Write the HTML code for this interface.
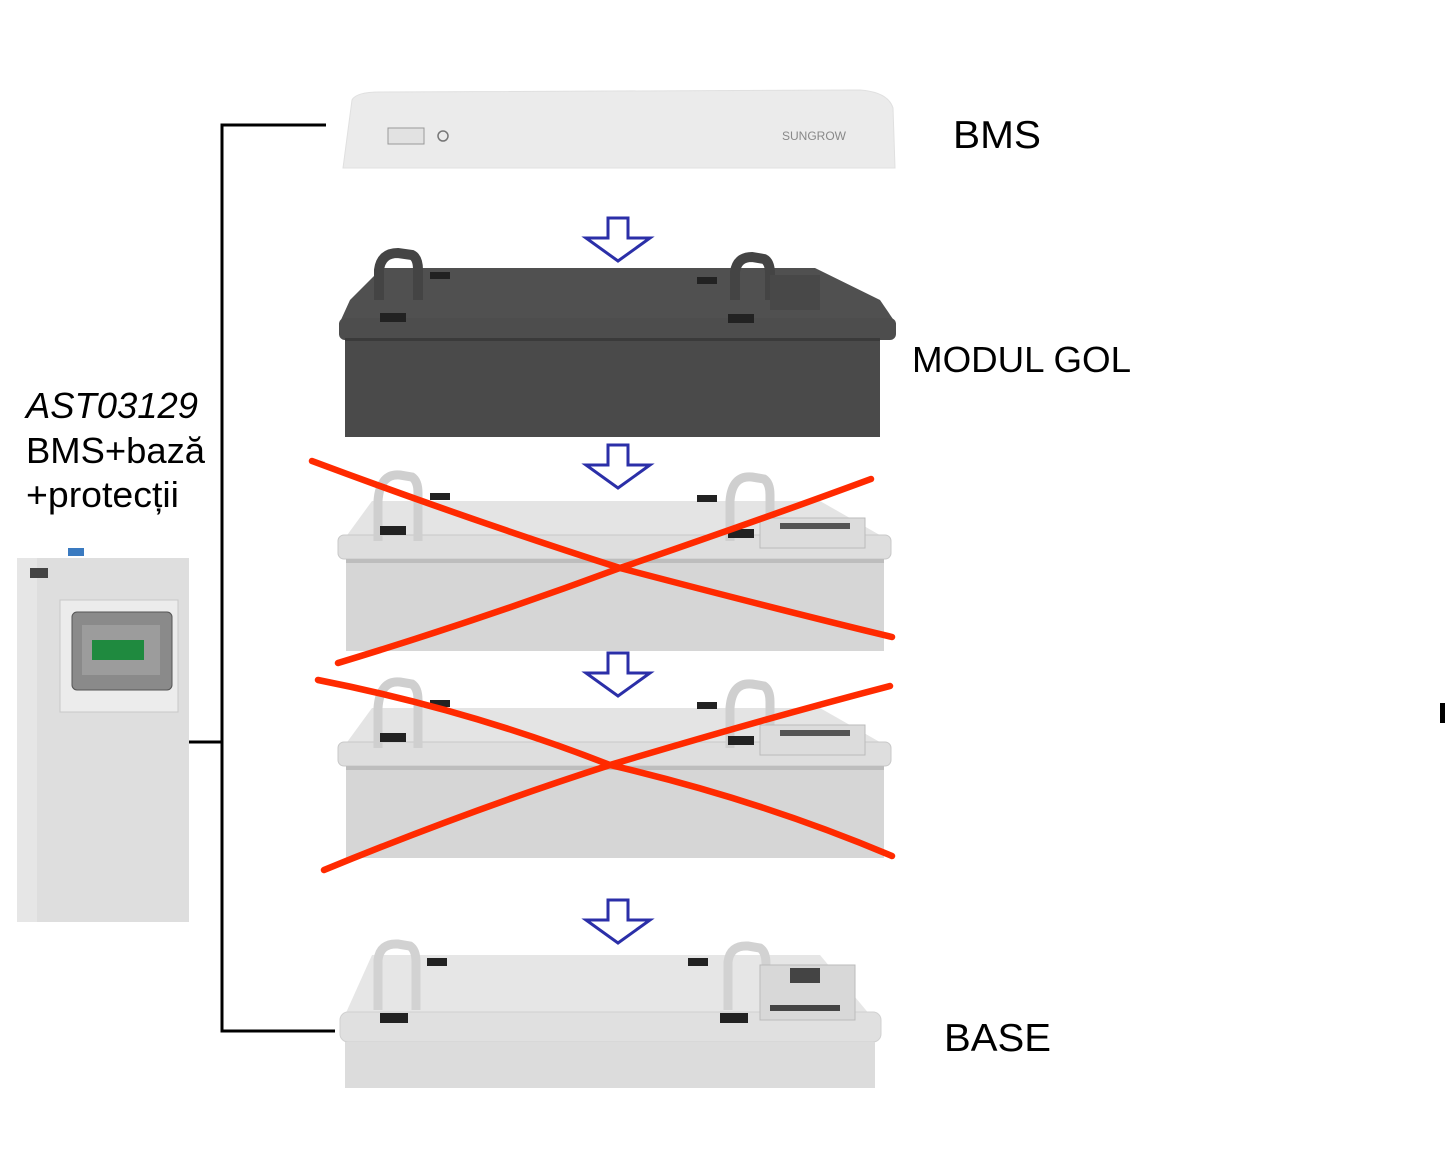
<!DOCTYPE html>
<html><head><meta charset="utf-8"><style>
html,body{margin:0;padding:0;background:#fff;}
svg{display:block;}
text{font-family:"Liberation Sans",sans-serif;fill:#000;}
</style></head><body>
<svg width="1445" height="1158" viewBox="0 0 1445 1158" xmlns="http://www.w3.org/2000/svg">
<defs>
<g id="arrow"><path d="M-10,0 H10 V20 H32 L0,43 L-32,20 H-10 Z" fill="#fff" stroke="#2b2fa8" stroke-width="3"/></g>
<g id="lightmod">
  <path d="M372,8 L820,8 L885,45 L345,45 Z" fill="#e4e4e4"/>
  <rect x="338" y="42" width="553" height="24" rx="6" fill="#dedede" stroke="#c8c8c8"/>
  <rect x="346" y="66" width="538" height="92" fill="#d6d6d6"/>
  <rect x="346" y="66" width="538" height="4" fill="#bdbdbd"/>
  <path d="M378,48 L378,8 Q380,-20 400,-18 L412,-16 Q418,-12 418,0 L418,48" fill="none" stroke="#cfcfcf" stroke-width="9"/>
  <path d="M730,48 L730,8 Q732,-18 752,-16 L764,-14 Q770,-10 770,2 L770,48" fill="none" stroke="#cfcfcf" stroke-width="9"/>
  <rect x="760" y="25" width="105" height="30" fill="#dcdcdc" stroke="#bbb"/>
  <rect x="780" y="30" width="70" height="6" fill="#555"/>
  <rect x="430" y="0" width="20" height="7" fill="#222"/>
  <rect x="697" y="2" width="20" height="7" fill="#222"/>
  <rect x="380" y="33" width="26" height="9" fill="#222"/>
  <rect x="728" y="36" width="26" height="9" fill="#222"/>
</g>
</defs>

<path d="M326,125 H222 V1031 H335 M188,742 H222" fill="none" stroke="#000" stroke-width="3"/>
<rect x="1440" y="703" width="5" height="20" fill="#000"/>

<path d="M352,100 Q356,92 380,92 L860,90 Q888,92 893,108 L895,168 L343,168 Z" fill="#ebebeb" stroke="#e0e0e0"/>
<rect x="388" y="128" width="36" height="16" fill="#e2e2e2" stroke="#999"/>
<circle cx="443" cy="136" r="5" fill="none" stroke="#777" stroke-width="1.5"/>
<text x="782" y="140" font-size="12" style="fill:#888">SUNGROW</text>

<use href="#arrow" x="618" y="218"/>
<use href="#arrow" x="618" y="445"/>
<use href="#arrow" x="618" y="653"/>
<use href="#arrow" x="618" y="900"/>

<path d="M382,268 L815,268 L880,300 L895,322 L340,322 L350,300 Z" fill="#505050"/>
<rect x="339" y="318" width="557" height="22" rx="6" fill="#4d4d4d"/>
<rect x="345" y="340" width="535" height="97" fill="#4a4a4a"/>
<rect x="345" y="338" width="535" height="3" fill="#3a3a3a"/>
<path d="M379,300 L379,270 Q381,253 398,253 L412,255 Q418,258 418,270 L418,300" fill="none" stroke="#444" stroke-width="10"/>
<path d="M735,300 L735,272 Q737,257 752,257 L764,259 Q770,262 770,274 L770,300" fill="none" stroke="#444" stroke-width="10"/>
<rect x="770" y="275" width="50" height="35" fill="#484848"/>
<rect x="430" y="272" width="20" height="7" fill="#222"/>
<rect x="697" y="277" width="20" height="7" fill="#222"/>
<rect x="380" y="313" width="26" height="9" fill="#222"/>
<rect x="728" y="314" width="26" height="9" fill="#222"/>

<use href="#lightmod" x="0" y="493"/>
<use href="#lightmod" x="0" y="700"/>

<path d="M372,955 L820,955 L870,1015 L345,1015 Z" fill="#e6e6e6"/>
<rect x="340" y="1012" width="541" height="30" rx="8" fill="#e0e0e0" stroke="#d0d0d0"/>
<rect x="345" y="1042" width="530" height="46" fill="#dcdcdc"/>
<path d="M378,1010 L378,960 Q380,943 398,944 L410,946 Q416,950 416,962 L416,1010" fill="none" stroke="#d2d2d2" stroke-width="9"/>
<path d="M728,1010 L728,962 Q730,945 748,946 L760,948 Q766,952 766,964 L766,1010" fill="none" stroke="#d2d2d2" stroke-width="9"/>
<rect x="760" y="965" width="95" height="55" fill="#d8d8d8" stroke="#bbb"/>
<rect x="790" y="968" width="30" height="15" fill="#444"/>
<rect x="770" y="1005" width="70" height="6" fill="#444"/>
<rect x="427" y="958" width="20" height="8" fill="#222"/>
<rect x="688" y="958" width="20" height="8" fill="#222"/>
<rect x="380" y="1013" width="28" height="10" fill="#222"/>
<rect x="720" y="1013" width="28" height="10" fill="#222"/>

<g fill="none" stroke="#ff2a00" stroke-width="6.5" stroke-linecap="round">
<path d="M312,461 Q470,520 620,568 Q780,610 892,637"/>
<path d="M338,663 Q480,620 620,568 Q760,520 871,479"/>
<path d="M318,680 Q470,710 610,765 Q760,800 892,856"/>
<path d="M324,870 Q470,810 610,765 Q760,720 890,686"/>
</g>

<rect x="17" y="558" width="172" height="364" fill="#dedede"/>
<rect x="17" y="558" width="20" height="364" fill="#e6e6e6"/>
<rect x="30" y="568" width="18" height="10" fill="#444"/>
<rect x="68" y="548" width="16" height="8" fill="#3a7ac0"/>
<rect x="60" y="600" width="118" height="112" fill="#ececec" stroke="#c8c8c8"/>
<rect x="72" y="612" width="100" height="78" rx="5" fill="#8a8a8a" stroke="#555"/>
<rect x="82" y="625" width="78" height="50" fill="#9c9c9c"/>
<rect x="92" y="640" width="52" height="20" fill="#1f8a3f"/>

<text x="953" y="148" font-size="39" textLength="88" lengthAdjust="spacingAndGlyphs">BMS</text>
<text x="912" y="372" font-size="36" textLength="219" lengthAdjust="spacingAndGlyphs">MODUL GOL</text>
<text x="944" y="1051" font-size="39" textLength="107" lengthAdjust="spacingAndGlyphs">BASE</text>
<text x="26" y="418" font-size="36" font-style="italic" textLength="172" lengthAdjust="spacingAndGlyphs">AST03129</text>
<text x="26" y="463" font-size="36" textLength="179" lengthAdjust="spacingAndGlyphs">BMS+bază</text>
<text x="26" y="507" font-size="36" textLength="153" lengthAdjust="spacingAndGlyphs">+protecții</text>
</svg>
</body></html>
